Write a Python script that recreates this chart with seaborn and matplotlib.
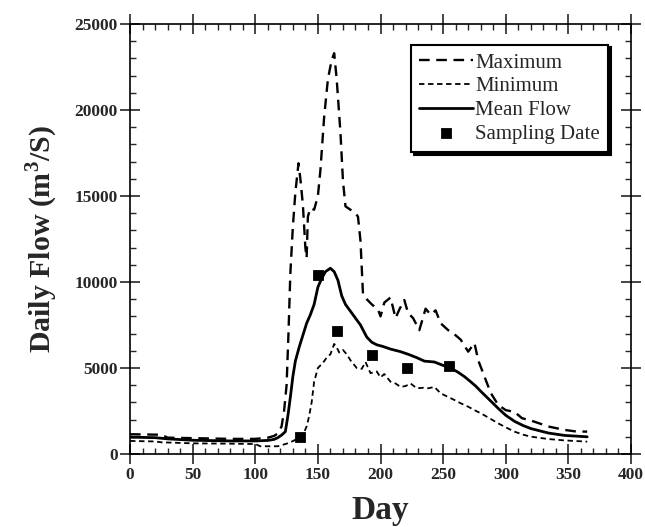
import matplotlib
matplotlib.use("Agg")
import matplotlib.pyplot as plt
import seaborn as sns
from matplotlib.ticker import MultipleLocator

# Vazões máximas diárias
max_day = [0, 25, 30, 80, 100, 110, 115, 118, 121, 123, 125, 126.5, 128, 130, 132, 134.5,
           136, 138, 140, 141, 142, 144, 147, 150, 152, 155, 158, 161, 163, 165, 168, 170,
           172, 176, 180, 182, 184, 186, 189, 193, 198, 200, 203, 208, 212, 215, 219, 222,
           226, 231, 236, 240, 244, 248, 254, 260, 264, 270, 275, 278, 283, 288, 294, 300,
           307, 313, 320, 334, 347, 355, 365]
max_flow = [1150, 1120, 950, 880, 880, 950, 1050, 1200, 1600, 2500, 4000, 7000, 10500, 13200, 15200, 16900,
            16000, 14500, 12000, 11400, 13800, 14300, 14200, 15000, 16500, 19600, 21800, 22900, 23300, 21800, 18700, 15900,
            14400, 14200, 14000, 13800, 12400, 9300, 9000, 8700, 8400, 8000, 8800, 9100, 7900, 8400, 8950, 8200,
            7900, 7200, 8450, 8100, 8350, 7600, 7200, 6900, 6650, 5950, 6450, 5450, 4500, 3550, 2850, 2550,
            2450, 2080, 1950, 1600, 1400, 1320, 1300]

# Vazões mínimas diárias
min_day = [0, 20, 25, 50, 80, 100, 104, 118, 125, 130, 135, 138, 141, 143, 145, 147, 150,
           154, 157, 160, 163, 165, 167, 170, 173, 176, 181, 185, 188, 192, 197, 200, 203,
           208, 212, 216, 220, 224, 229, 234, 238, 243, 248, 253, 259, 264, 270, 275, 280,
           287, 294, 300, 307, 314, 320, 334, 347, 365]
min_flow = [760, 730, 680, 620, 600, 580, 450, 450, 600, 750, 950, 1100, 1600, 2200, 3000, 4200, 5000,
            5300, 5600, 5800, 6400, 6200, 5900, 6050, 5800, 5450, 5000, 4950, 5350, 4700, 4800, 4450, 4650,
            4200, 4100, 3900, 3950, 4100, 3820, 3850, 3820, 3900, 3530, 3350, 3140, 2950, 2750, 2550, 2370,
            2080, 1780, 1550, 1300, 1120, 1010, 870, 790, 720]

# Vazão média
mean_day = [0, 20, 30, 50, 80, 100, 110, 115, 118, 121, 124, 126, 128, 130, 132, 135, 138,
            141, 144, 147, 150, 153, 156, 160, 163, 166, 169, 172, 176, 180, 184, 189, 193,
            197, 202, 208, 216, 222, 229, 235, 243, 250, 256, 262, 267, 272, 276, 280, 287,
            294, 300, 307, 314, 320, 334, 347, 365]
mean_flow = [980, 950, 880, 800, 760, 760, 790, 850, 950, 1100, 1300, 2200, 3300, 4500, 5400, 6200, 6900,
             7600, 8100, 8700, 9700, 10200, 10600, 10800, 10600, 10100, 9200, 8700, 8300, 7900, 7500, 6800, 6500,
             6350, 6250, 6100, 5950, 5800, 5600, 5400, 5350, 5150, 5000, 4750, 4500, 4200, 3950, 3650, 3150,
             2650, 2250, 1900, 1650, 1480, 1220, 1080, 1000]

# Datas de amostragem
amostra_day = [136, 150, 165, 193, 221, 255]
amostra_flow = [1000, 10400, 7150, 5750, 5000, 5100]

sns.set_style("ticks")
plt.rcParams['font.family'] = ['Liberation Serif', 'DejaVu Serif']
plt.rcParams['mathtext.fontset'] = 'custom'
plt.rcParams['mathtext.rm'] = 'Liberation Serif'
plt.rcParams['mathtext.bf'] = 'Liberation Serif:bold'

fig = plt.figure(figsize=(6.45, 5.27), dpi=100)
ax = fig.add_axes([0.2016, 0.1385, 0.7767, 0.816])

sns.lineplot(x=max_day, y=max_flow, ax=ax, color="k", linewidth=1.7,
             linestyle=(0, (4.5, 2.8)), label="Maximum")
sns.lineplot(x=min_day, y=min_flow, ax=ax, color="k", linewidth=1.3,
             linestyle=(0, (3, 2)), label="Minimum")
sns.lineplot(x=mean_day, y=mean_flow, ax=ax, color="k", linewidth=2.0,
             label="Mean Flow")
sns.scatterplot(x=amostra_day, y=amostra_flow, ax=ax, color="k", marker="s",
                s=55, edgecolor="k", zorder=5, label="Sampling Date")

ax.set_xlim(0, 400)
ax.set_ylim(0, 25000)
ax.xaxis.set_major_locator(MultipleLocator(50))
ax.xaxis.set_minor_locator(MultipleLocator(10))
ax.yaxis.set_major_locator(MultipleLocator(5000))
ax.yaxis.set_minor_locator(MultipleLocator(1000))

ax.tick_params(which="major", direction="inout", length=14, width=1.2,
               top=True, right=True, pad=2)
ax.tick_params(which="minor", direction="in", length=4, width=1.0,
               top=True, right=True)
for s in ax.spines.values():
    s.set_linewidth(1.2)
    s.set_color("k")

for lab in ax.get_xticklabels() + ax.get_yticklabels():
    lab.set_fontweight("bold")
    lab.set_fontsize(12.5)

ax.set_xlabel("Day", fontsize=24, fontweight="bold", labelpad=9)
ax.set_ylabel(r"Daily Flow (m$^{\mathbf{3}}$/S)", fontsize=21.5, fontweight="bold", labelpad=10)

leg = ax.legend(loc="upper right", bbox_to_anchor=(0.955, 0.952), borderaxespad=0,
                fontsize=15, frameon=True, fancybox=False, edgecolor="k",
                shadow={"color": "k", "alpha": 1}, handlelength=2.6,
                handletextpad=0.1, labelspacing=0.2, borderpad=0.4)
leg.get_frame().set_linewidth(1.5)
leg.get_frame().set_alpha(1)

fig.savefig("out.png", dpi=100)
